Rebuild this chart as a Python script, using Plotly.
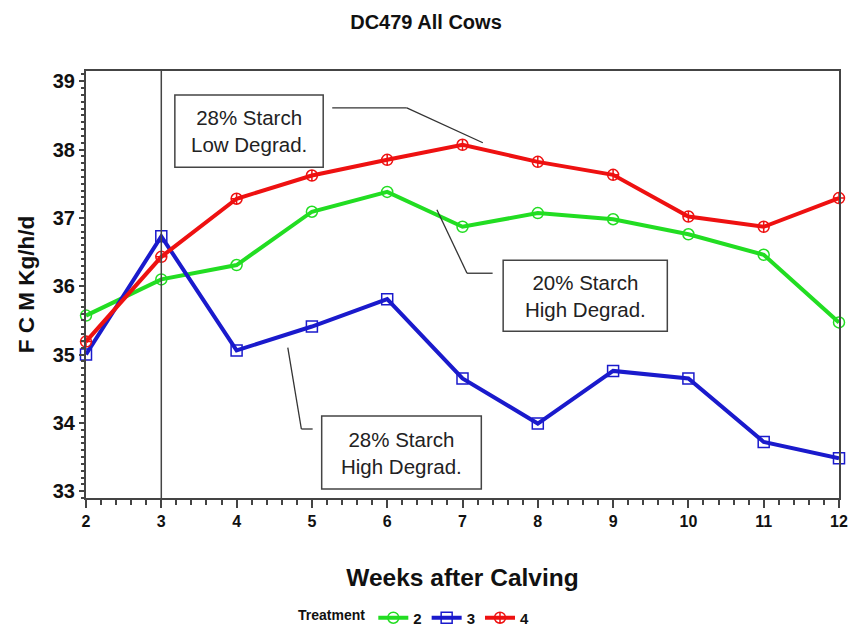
import plotly.graph_objects as go

weeks = [2, 3, 4, 5, 6, 7, 8, 9, 10, 11, 12]
trt2 = [35.57, 36.10, 36.31, 37.09, 37.38, 36.87, 37.07, 36.98, 36.76, 36.46, 35.47]
trt3 = [35.00, 36.73, 35.06, 35.41, 35.81, 34.65, 33.99, 34.76, 34.65, 33.72, 33.48]
trt4 = [35.19, 36.43, 37.28, 37.62, 37.85, 38.07, 37.82, 37.63, 37.02, 36.87, 37.29]
series_names = ["2", "3", "4"]
x_ticks = [2, 3, 4, 5, 6, 7, 8, 9, 10, 11, 12]
y_ticks = [33, 34, 35, 36, 37, 38, 39]

FONT = "Liberation Sans, Arial, sans-serif"
AX = "#444444"

fig = go.Figure()
styles = [
    (trt2, "#22dd22", "circle-open"),
    (trt3, "#1a1acc", "square-open"),
    (trt4, "#ee1111", "circle-cross-open"),
]
for (vals, col, sym), name in zip(styles, series_names):
    fig.add_trace(go.Scatter(
        x=weeks, y=vals, name=f"<b>{name}</b>", mode="lines+markers",
        line=dict(color=col, width=4),
        marker=dict(symbol=sym, size=11, color=col, line=dict(width=1.5, color=col)),
        cliponaxis=False,
    ))

shapes = []
shapes.append(dict(type="line", xref="x", yref="paper", x0=3, x1=3, y0=0, y1=1,
                   line=dict(color=AX, width=1.5)))
boxes = [
    (3.18, 5.15, 37.74, 38.80, "28% Starch<br>Low Degrad."),
    (7.54, 9.72, 35.34, 36.38, "20% Starch<br>High Degrad."),
    (5.13, 7.25, 33.03, 34.10, "28% Starch<br>High Degrad."),
]
annotations = []
for x0, x1, y0, y1, txt in boxes:
    shapes.append(dict(type="rect", xref="x", yref="y", x0=x0, x1=x1, y0=y0, y1=y1,
                       line=dict(color=AX, width=1.5), fillcolor="white", layer="above"))
    annotations.append(dict(x=(x0 + x1) / 2, y=(y0 + y1) / 2, xref="x", yref="y",
                            text=txt, showarrow=False,
                            font=dict(family=FONT, size=20.5, color="#222222")))
leaders = [
    [(5.27, 38.61), (6.26, 38.61), (7.27, 38.10)],
    [(6.66, 37.12), (7.06, 36.19), (7.40, 36.19)],
    [(4.68, 35.10), (4.86, 33.91), (5.01, 33.91)],
]
for pts in leaders:
    for (xa, ya), (xb, yb) in zip(pts[:-1], pts[1:]):
        shapes.append(dict(type="line", xref="x", yref="y", x0=xa, y0=ya, x1=xb, y1=yb,
                           line=dict(color="#333333", width=1.3)))

fig.update_layout(
    width=852, height=627,
    margin=dict(l=86, r=13, t=71, b=129),
    paper_bgcolor="white", plot_bgcolor="white",
    title=dict(text="<b>DC479 All Cows</b>", x=0.5, xanchor="center", y=0.965, yanchor="middle",
               font=dict(family=FONT, size=20, color="#111111")),
    shapes=shapes,
    annotations=annotations,
    showlegend=True,
    legend=dict(orientation="h", x=0.437, xanchor="center",
                yref="container", y=0.0144, yanchor="middle",
                title=dict(text="<b>Treatment</b>", font=dict(family=FONT, size=14, color="#111111")),
                font=dict(family=FONT, size=15, color="#111111"),
                itemwidth=30, bgcolor="rgba(0,0,0,0)"),
    xaxis=dict(
        range=[2, 12], tickvals=x_ticks, ticktext=[f"<b>{t}</b>" for t in x_ticks],
        showgrid=False, zeroline=False, automargin=False,
        showline=True, linecolor=AX, linewidth=2, mirror=True,
        ticks="outside", ticklen=8, tickwidth=2, tickcolor=AX,
        minor=dict(dtick=0.2, ticks="outside", ticklen=5, tickwidth=2, tickcolor=AX),
        tickfont=dict(family=FONT, size=16, color="#111111"),
        title=dict(text="<b>Weeks after Calving</b>", standoff=40,
                   font=dict(family=FONT, size=24.5, color="#111111")),
    ),
    yaxis=dict(
        range=[32.9, 39.15], tickvals=y_ticks, ticktext=[f"<b>{t}</b>" for t in y_ticks],
        showgrid=False, zeroline=False, automargin=False,
        showline=True, linecolor=AX, linewidth=2, mirror=True,
        ticks="outside", ticklen=5, tickwidth=2, tickcolor=AX,
        minor=dict(dtick=0.1, ticks="outside", ticklen=3, tickwidth=1.5, tickcolor=AX),
        tickfont=dict(family=FONT, size=20, color="#111111"),
        title=dict(text="<b>F C M Kg/h/d</b>", standoff=12,
                   font=dict(family=FONT, size=22.5, color="#111111")),
    ),
)

fig.write_html("out.html", config={"displayModeBar": False},
               post_script="document.body.style.margin='0px';document.body.style.overflow='hidden';")
